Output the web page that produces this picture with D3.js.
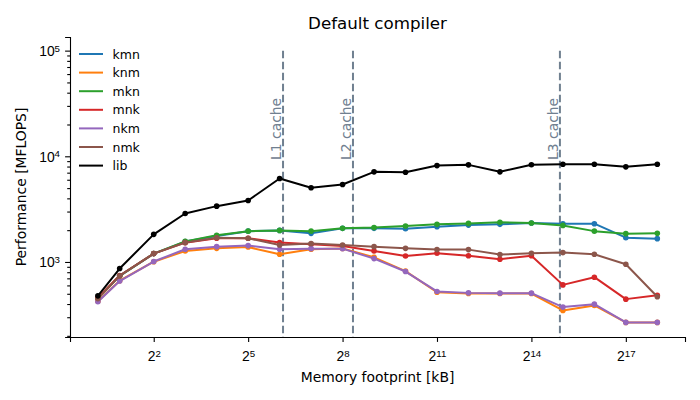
<!DOCTYPE html>
<html>
<head>
<meta charset="utf-8">
<script src="https://cdn.jsdelivr.net/npm/d3@7"></script>
<style>
  body { margin: 0; background: #fff; }
  svg { font-family: "DejaVu Sans", sans-serif; }
</style>
</head>
<body>
<div id="chart"></div>
<script>
// memory footprint of each run, in kB
const footprint = [1.17, 1.89, 4, 8, 16, 32, 64, 128, 256, 512, 1024, 2048,
  4096, 8192, 16384, 32768, 65536, 131072, 262144];

// performance in MFLOPS, one array per loop order
const kmn = [450, 740, 1200, 1560, 1760, 1958, 1990, 1866, 2080, 2080, 2065,
  2158, 2234, 2270, 2335, 2302, 2302, 1698, 1663];
const knm = [425, 665, 1005, 1270, 1346, 1384, 1182, 1318, 1340, 1107, 820,
  517, 503, 503, 503, 348, 388, 268, 268];
const mkn = [455, 740, 1200, 1566, 1786, 1958, 1990, 1958, 2080, 2114, 2189,
  2270, 2318, 2380, 2335, 2218, 1958, 1853, 1866];
const mnk = [460, 745, 1200, 1524, 1675, 1675, 1525, 1468, 1416, 1270, 1139,
  1208, 1145, 1062, 1145, 607, 718, 445, 485];
const nkm = [420, 660, 1010, 1318, 1397, 1429, 1318, 1337, 1337, 1076, 812,
  526, 510, 507, 507, 374, 399, 268, 268];
const nmk = [450, 738, 1200, 1524, 1698, 1675, 1446, 1492, 1446, 1397, 1346,
  1309, 1309, 1174, 1208, 1227, 1182, 951, 468];
const lib = [478, 867, 1825, 2877, 3375, 3819, 6166, 5035, 5408, 7130, 7063,
  8166, 8298, 7130, 8330, 8400, 8400, 7950, 8400];

const seriesNames = ["kmn", "knm", "mkn", "mnk", "nkm", "nmk", "lib"];
const seriesValues = [kmn, knm, mkn, mnk, nkm, nmk, lib];
const seriesColors = ["#1f77b4", "#ff7f0e", "#2ca02c", "#d62728", "#9467bd",
  "#8c564b", "#000000"];

// cache sizes in kB
const cacheNames = ["L1 cache", "L2 cache", "L3 cache"];
const cacheSizes = [69, 322, 30700];

const xTickExps = [2, 5, 8, 11, 14, 17];
const yTickExps = [3, 4, 5];

const width = 700;
const height = 400;
const margin = { top: 37, right: 15, bottom: 63, left: 70 };

function drawChart() {
  const svg = d3
    .select("#chart")
    .append("svg")
    .attr("width", width)
    .attr("height", height);

  // log scales, base 2 for footprint and base 10 for performance
  const x = d3
    .scaleLog()
    .base(2)
    .domain([Math.pow(2, -0.66), Math.pow(2, 18.88)])
    .range([margin.left, width - margin.right]);

  const y = d3
    .scaleLog()
    .domain([Math.pow(10, 2.29), Math.pow(10, 5.129)])
    .range([height - margin.bottom, margin.top]);

  const bottom = height - margin.bottom;

  // x axis with 2^n labels
  const xAxis = svg
    .append("g")
    .attr("transform", `translate(0, ${bottom})`)
    .call(
      d3
        .axisBottom(x)
        .tickValues(xTickExps.map((e) => Math.pow(2, e)))
        .tickSize(4.9)
        .tickPadding(4)
        .tickFormat("")
    );
  styleAxis(xAxis);
  xAxis
    .selectAll(".tick")
    .append("text")
    .attr("y", 24)
    .attr("text-anchor", "middle")
    .attr("fill", "#000")
    .style("font-size", "13.9px")
    .each(function (d) {
      const t = d3.select(this);
      t.append("tspan").text("2");
      t.append("tspan")
        .attr("dy", "-0.45em")
        .style("font-size", "9.7px")
        .text(Math.round(Math.log2(d)));
    });

  // y axis with 10^n labels and minor ticks
  const minor = [];
  for (let e = 2; e <= 5; e++) {
    for (let m = 2; m <= 9; m++) {
      const v = m * Math.pow(10, e);
      if (v >= y.domain()[0] && v <= y.domain()[1]) minor.push(v);
    }
  }
  const yMinor = svg
    .append("g")
    .attr("transform", `translate(${margin.left}, 0)`)
    .call(d3.axisLeft(y).tickValues(minor).tickSize(2.8).tickFormat(""));
  styleAxis(yMinor);
  yMinor.select(".domain").remove();

  const yAxis = svg
    .append("g")
    .attr("transform", `translate(${margin.left}, 0)`)
    .call(
      d3
        .axisLeft(y)
        .tickValues(yTickExps.map((e) => Math.pow(10, e)))
        .tickSize(4.9)
        .tickFormat("")
    );
  styleAxis(yAxis);
  yAxis
    .selectAll(".tick")
    .append("text")
    .attr("x", -10)
    .attr("y", 5)
    .attr("text-anchor", "end")
    .attr("fill", "#000")
    .style("font-size", "13.9px")
    .each(function (d) {
      const t = d3.select(this);
      t.append("tspan").text("10");
      t.append("tspan")
        .attr("dy", "-0.45em")
        .style("font-size", "9.7px")
        .text(Math.round(Math.log10(d)));
    });

  // cache boundaries
  cacheSizes.forEach((size, i) => {
    svg
      .append("line")
      .attr("x1", x(size))
      .attr("x2", x(size))
      .attr("y1", y(1e5))
      .attr("y2", bottom)
      .attr("stroke", "#708090")
      .attr("stroke-width", 2)
      .attr("stroke-dasharray", "7.7,3.3");
    svg
      .append("text")
      .attr("transform", `translate(${x(size) - 2}, 160) rotate(-90)`)
      .attr("fill", "#708090")
      .style("font-size", "13.9px")
      .text(cacheNames[i]);
  });

  // series lines and markers
  const line = d3
    .line()
    .x((d, i) => x(footprint[i]))
    .y((d) => y(d));

  seriesValues.forEach((values, s) => {
    const g = svg.append("g");
    g.append("path")
      .datum(values)
      .attr("fill", "none")
      .attr("stroke", seriesColors[s])
      .attr("stroke-width", 2)
      .attr("stroke-linejoin", "round")
      .attr("d", line);
    g.selectAll("circle")
      .data(values)
      .enter()
      .append("circle")
      .attr("cx", (d, i) => x(footprint[i]))
      .attr("cy", (d) => y(d))
      .attr("r", 2.8)
      .attr("fill", seriesColors[s]);
  });

  // legend, no frame
  const legend = svg.append("g");
  seriesNames.forEach((name, i) => {
    const ly = 54 + i * 18.6;
    legend
      .append("line")
      .attr("x1", 79)
      .attr("x2", 103)
      .attr("y1", ly)
      .attr("y2", ly)
      .attr("stroke", seriesColors[i])
      .attr("stroke-width", 2);
    legend
      .append("text")
      .attr("x", 112.5)
      .attr("y", ly + 4.5)
      .style("font-size", "12.5px")
      .text(name);
  });

  // titles
  svg
    .append("text")
    .attr("x", (margin.left + width - margin.right) / 2)
    .attr("y", 29)
    .attr("text-anchor", "middle")
    .style("font-size", "16.7px")
    .text("Default compiler");

  svg
    .append("text")
    .attr("x", (margin.left + width - margin.right) / 2)
    .attr("y", 382)
    .attr("text-anchor", "middle")
    .style("font-size", "13.9px")
    .text("Memory footprint [kB]");

  svg
    .append("text")
    .attr("transform", `translate(26, ${(margin.top + bottom) / 2}) rotate(-90)`)
    .attr("text-anchor", "middle")
    .style("font-size", "13.9px")
    .text("Performance [MFLOPS]");
}

function styleAxis(g) {
  g.select(".domain").attr("stroke", "#000").attr("stroke-width", 1.1);
  g.selectAll(".tick line").attr("stroke", "#000").attr("stroke-width", 1.1);
}

drawChart();
</script>
</body>
</html>
